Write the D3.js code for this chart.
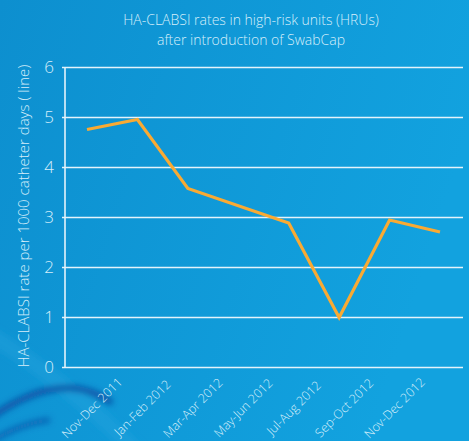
<!DOCTYPE html>
<html>
<head>
<meta charset="utf-8">
<script src="https://cdn.jsdelivr.net/npm/d3@7"></script>
<style>
  html, body { margin: 0; padding: 0; background: #0f97d5; }
  svg { display: block; font-family: "Open Sans", "Noto Sans", sans-serif; font-weight: 300; }
</style>
</head>
<body>
<svg id="chart" width="469" height="441"></svg>
<script>
// periods (one slot between Mar-Apr and May-Jun has no value)
const periods = ["P1", "P2", "P3", "P4", "P5", "P6", "P7", "P8"];
const rates = [4.75, 4.95, 3.57, null, 2.88, 0.99, 2.94, 2.70];
const xLabels = ["Nov-Dec 2011", "Jan-Feb 2012", "Mar-Apr 2012", "May-Jun 2012",
                 "Jul-Aug 2012", "Sep-Oct 2012", "Nov-Dec 2012", ""];
const yTicks = [0, 1, 2, 3, 4, 5, 6];
const titleLines = ["HA-CLABSI rates in high-risk units (HRUs)", "after introduction of SwabCap"];
const yTitle = "HA-CLABSI rate per 1000 catheter days ( line)";

const width = 469, height = 441;
const margin = { top: 67, right: 6, bottom: 74, left: 65 };
const textColor = "#d6eefa";

const svg = d3.select("#chart");

// background
const defs = svg.append("defs");
const grad = defs.append("linearGradient").attr("id", "bg")
    .attr("x1", "0").attr("y1", "0").attr("x2", "1").attr("y2", "0.3");
grad.append("stop").attr("offset", "0").attr("stop-color", "#0d8fcf");
grad.append("stop").attr("offset", "1").attr("stop-color", "#12a2df");
defs.append("filter").attr("id", "blur")
    .append("feGaussianBlur").attr("stdDeviation", 3);

svg.append("rect").attr("width", width).attr("height", height).attr("fill", "url(#bg)");

// decorative swoosh, bottom left
const swoosh = svg.append("g").attr("filter", "url(#blur)");
swoosh.append("path")
    .attr("d", "M-10,335 C40,365 90,405 140,455")
    .attr("fill", "none").attr("stroke", "#2aa6e0").attr("stroke-width", 16).attr("opacity", 0.35);
swoosh.append("path")
    .attr("d", "M-10,418 C20,397 45,387 70,388 C88,389 100,395 112,403")
    .attr("fill", "none").attr("stroke", "#0a3f98").attr("stroke-width", 6).attr("opacity", 0.8);
swoosh.append("path")
    .attr("d", "M-10,442 C10,430 30,422 50,420")
    .attr("fill", "none").attr("stroke", "#0b4aa3").attr("stroke-width", 5).attr("opacity", 0.7);

const x = d3.scalePoint()
    .domain(periods)
    .range([margin.left + 22, width - margin.right - 23]);

const y = d3.scaleLinear()
    .domain([0, 6])
    .range([height - margin.bottom, margin.top]);

// gridlines + ticks
const yAxis = svg.append("g")
    .attr("transform", `translate(${margin.left},0)`)
    .call(d3.axisLeft(y)
        .tickValues(yTicks)
        .tickFormat(d3.format("d"))
        .tickSize(-(width - margin.left - margin.right))
        .tickSizeOuter(0)
        .tickPadding(11));
yAxis.select(".domain").remove();
yAxis.selectAll(".tick line")
    .attr("x1", -3)
    .attr("stroke", "#e4f3fb").attr("stroke-width", 1.6);
yAxis.selectAll(".tick text")
    .attr("fill", textColor).attr("font-size", 17).attr("font-family", "Open Sans").attr("font-weight", 300);

// vertical axis line
svg.append("line")
    .attr("x1", margin.left).attr("x2", margin.left)
    .attr("y1", y(6)).attr("y2", y(0))
    .attr("stroke", "#e4f3fb").attr("stroke-width", 1.6);

// x labels
svg.append("g").selectAll("text")
    .data(periods)
    .join("text")
    .attr("transform", d => `translate(${x(d) + 5},${height - margin.bottom + 41}) rotate(-45)`)
    .attr("text-anchor", "middle")
    .attr("dy", "0.35em")
    .attr("fill", textColor)
    .attr("font-size", 12.5)
    .text((d, i) => xLabels[i]);

// line
const pts = periods.map((p, i) => ({ p, v: rates[i] })).filter(d => d.v != null);
const line = d3.line().x(d => x(d.p)).y(d => y(d.v));
svg.append("path")
    .datum(pts)
    .attr("d", line)
    .attr("fill", "none")
    .attr("stroke", "#f9aa33")
    .attr("stroke-width", 3.2)
    .attr("stroke-linejoin", "miter");

// title
svg.append("g").selectAll("text")
    .data(titleLines)
    .join("text")
    .attr("x", 251)
    .attr("y", (d, i) => 25 + i * 20)
    .attr("text-anchor", "middle")
    .attr("fill", textColor)
    .attr("font-size", 14)
    .text(d => d);

// y title
svg.append("text")
    .attr("transform", `translate(29,${(y(0) + y(6)) / 2 - 1}) rotate(-90)`)
    .attr("text-anchor", "middle")
    .attr("fill", textColor)
    .attr("font-size", 15)
    .text(yTitle);
</script>
</body>
</html>
